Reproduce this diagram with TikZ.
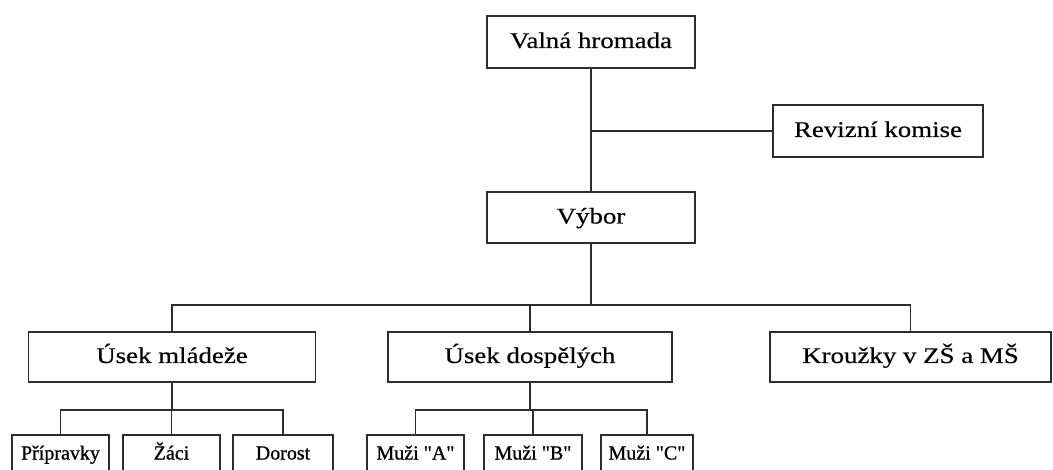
\documentclass[tikz,border=0pt]{standalone}
\usepackage{fontspec}
\setmainfont[FakeStretch=1.2, FakeBold=0.4]{Liberation Serif}
\newfontfamily\leaffont[FakeBold=0.8]{Liberation Serif}
\usetikzlibrary{positioning}
\definecolor{orgline}{RGB}{45,45,45}

\tikzset{
    orgbox/.style={draw=orgline, line width=1.4pt, inner sep=0pt,
        minimum height=38.5pt, text height=11pt, text depth=2pt,
        font=\fontsize{16.8}{20}\selectfont},
    leafbox/.style={draw=orgline, line width=1.4pt, inner sep=0pt,
        minimum height=33pt, text height=8pt, text depth=4.2pt,
        font=\leaffont\fontsize{15}{17}\selectfont},
    link/.style={draw=orgline, line width=1.4pt}
}

\begin{document}
\begin{tikzpicture}[x=0.75pt, y=-0.75pt]
    % Page
    \useasboundingbox (0,0) rectangle (1053,470);
    \fill[white] (0,0) rectangle (1053,470);
    \clip (0,0) rectangle (1053,470);

    % Top boxes
    \node[orgbox, minimum width=156pt] (valna) at (591,42) {Valná hromada};
    \node[orgbox, minimum width=157.5pt] (revize) at (878,131) {Revizní komise};
    \node[orgbox, minimum width=156pt] (vybor) at (591,217.5) {Výbor};

    % Sections
    \node[orgbox, minimum width=215.25pt, minimum height=37.5pt] (mladez) at (172,357) {Úsek mládeže};
    \node[orgbox, minimum width=213pt, minimum height=37.5pt] (dospeli) at (530,357) {Úsek dospělých};
    \node[orgbox, minimum width=210.75pt, minimum height=37.5pt] (krouzky) at (910.5,357) {Kroužky v ZŠ a MŠ};

    % Teams
    \node[leafbox, minimum width=72.75pt] (pripravky) at (60.5,457) {Přípravky};
    \node[leafbox, minimum width=72.75pt] (zaci) at (171.5,457) {Žáci};
    \node[leafbox, minimum width=75pt] (dorost) at (283,457) {Dorost};
    \node[leafbox, minimum width=72.75pt] (muziA) at (415.5,457) {Muži "A"};
    \node[leafbox, minimum width=73.5pt] (muziB) at (533,457) {Muži "B"};
    \node[leafbox, minimum width=69pt] (muziC) at (647,457) {Muži "C"};

    % Connectors
    \draw[link] (valna.south) -- (vybor.north);
    \draw[link] (revize.west) -- (revize.west -| valna.south);

    \coordinate (bus) at (591,305);
    \draw[link] (vybor.south) -- (bus);
    \draw[link] (mladez.north) |- (bus) -| (krouzky.north);
    \draw[link] (dospeli.north) -- (dospeli.north |- bus);

    \coordinate (busM) at (172,410);
    \draw[link] (mladez.south) -- (busM);
    \draw[link] (pripravky.north) |- (busM) -| (dorost.north);
    \draw[link] (zaci.north) -- (zaci.north |- busM);

    \coordinate (busD) at (530,410);
    \draw[link] (dospeli.south) -- (busD);
    \draw[link] (muziA.north) |- (busD) -| (muziC.north);
    \draw[link] (muziB.north) -- (muziB.north |- busD);
\end{tikzpicture}
\end{document}
